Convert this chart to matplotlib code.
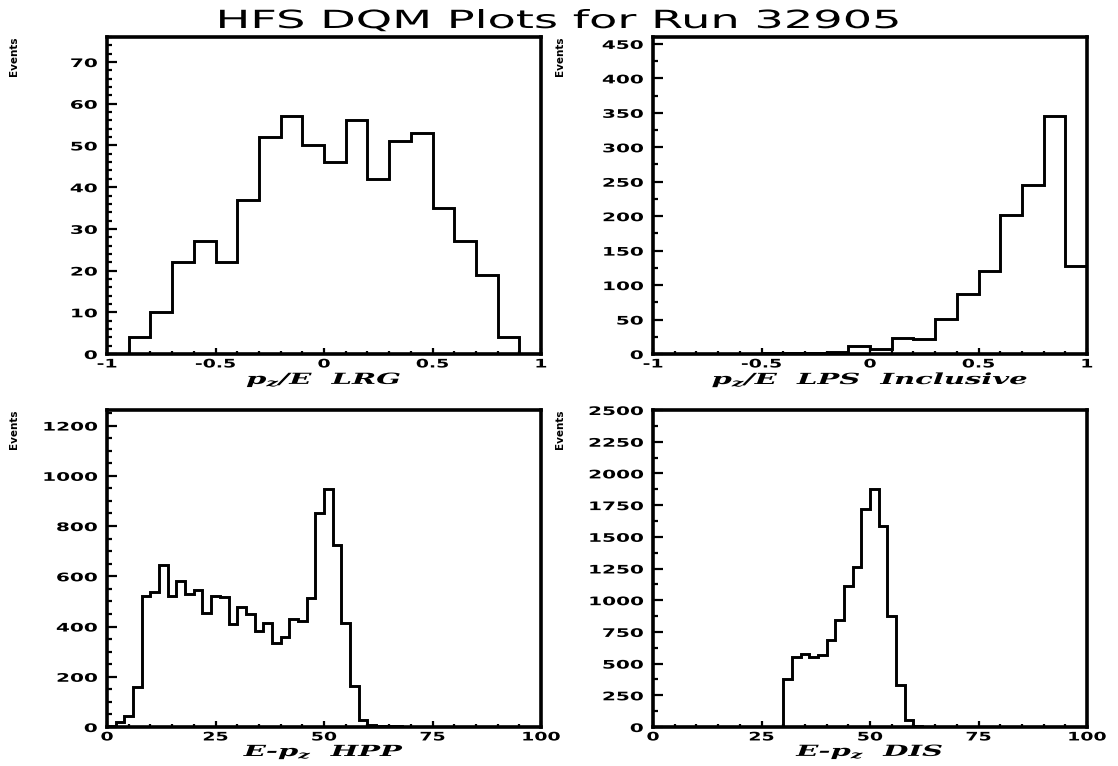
"""HFS DQM monitoring histograms for one run: 2x2 PAW-style panels -> out.png"""
import numpy as np
import matplotlib
matplotlib.use("Agg")
import matplotlib.pyplot as plt
from matplotlib.patheffects import AbstractPathEffect
from matplotlib.ticker import MultipleLocator, FuncFormatter
from matplotlib.transforms import Affine2D

RUN = 32905

# p_z/E histograms: 20 bins on [-1, 1]
pze_edges = np.linspace(-1.0, 1.0, 21)
lrg_counts = [0, 4, 10, 22, 27, 22, 37, 52, 57, 50,
              46, 56, 42, 51, 53, 35, 27, 19, 4, 0]
lps_counts = [0, 0, 0, 0, 0, 1, 1, 2, 3, 12,
              7, 23, 22, 51, 87, 120, 201, 245, 346, 127]

# E - p_z histograms: 50 bins on [0, 100]
epz_edges = np.linspace(0.0, 100.0, 51)
hpp_counts = [5, 18, 45, 160, 523, 539, 646, 523, 583, 530,
              547, 453, 520, 517, 411, 479, 450, 384, 413, 334,
              358, 430, 421, 514, 850, 947, 724, 415, 163, 28,
              9, 4, 3, 2, 0, 0, 0, 0, 0, 0,
              0, 0, 0, 0, 0, 0, 0, 0, 0, 0]
dis_counts = [0, 0, 0, 0, 0, 0, 0, 0, 0, 0,
              0, 0, 0, 0, 0, 381, 551, 578, 555, 567,
              690, 842, 1115, 1259, 1718, 1875, 1587, 879, 329, 56,
              8, 0, 0, 0, 0, 0, 0, 0, 0, 0,
              0, 0, 0, 0, 0, 0, 0, 0, 0, 0]

plt.rcParams["mathtext.fontset"] = "custom"
plt.rcParams["mathtext.it"] = "DejaVu Serif:italic:bold"
plt.rcParams["mathtext.rm"] = "DejaVu Serif:italic:bold"
plt.rcParams["axes.unicode_minus"] = False


class Widen(AbstractPathEffect):
    """Stretch glyph outlines horizontally (the old HIGZ fonts are wide)."""

    def __init__(self, sx, anchor="center"):
        super().__init__()
        self.sx = sx
        self.anchor = anchor

    def draw_path(self, renderer, gc, tpath, affine, rgbFace=None):
        ext = tpath.transformed(affine).get_extents()
        x0 = {"left": ext.x0, "right": ext.x1,
              "center": 0.5 * (ext.x0 + ext.x1)}[self.anchor]
        stretch = Affine2D().translate(-x0, 0).scale(self.sx, 1.0).translate(x0, 0)
        renderer.draw_path(gc, tpath, affine + stretch, rgbFace)


W, H = 1118, 766
fig = plt.figure(figsize=(W / 100, H / 100), dpi=100)
fig.patch.set_facecolor("white")


def px_axes(left, top, right, bottom):
    return fig.add_axes([left / W, 1 - bottom / H,
                         (right - left) / W, (bottom - top) / H])


num_fmt = FuncFormatter(lambda v, pos: f"{round(v, 3) + 0.0:g}")

# (axes box, edges, counts, x label, xlim, ymax, x ticks, y ticks,
#  x-label offset below the frame in px)
panels = [
    (px_axes(107, 37, 541, 354), pze_edges, lrg_counts, r"$p_z$/E  LRG",
     (-1, 1), 76, (0.5, 0.1), (10, 2), 26),
    (px_axes(653, 37, 1087, 354), pze_edges, lps_counts, r"$p_z$/E  LPS  Inclusive",
     (-1, 1), 460, (0.5, 0.1), (50, 25), 26),
    (px_axes(107, 410, 541, 727), epz_edges, hpp_counts, r"E-$p_z$  HPP",
     (0, 100), 1262, (25, 5), (200, 50), 25),
    (px_axes(653, 410, 1087, 727), epz_edges, dis_counts, r"E-$p_z$  DIS",
     (0, 100), 2500, (25, 5), (250, 125), 25),
]

for ax, edges, counts, xlabel, xlim, ymax, xt, yt, label_off in panels:
    ax.stairs(counts, edges, color="black", linewidth=2.1)
    ax.set_xlim(*xlim)
    ax.set_ylim(0, ymax)

    for sp in ax.spines.values():
        sp.set_linewidth(2.6)

    ax.xaxis.set_major_locator(MultipleLocator(xt[0]))
    ax.xaxis.set_minor_locator(MultipleLocator(xt[1]))
    ax.yaxis.set_major_locator(MultipleLocator(yt[0]))
    ax.yaxis.set_minor_locator(MultipleLocator(yt[1]))
    ax.xaxis.set_major_formatter(num_fmt)
    ax.yaxis.set_major_formatter(num_fmt)

    ax.tick_params(axis="both", which="both", direction="in", width=1.6,
                   top=False, right=False)
    ax.tick_params(axis="y", which="major", length=7.5, pad=7)
    ax.tick_params(axis="y", which="minor", length=3.5)
    ax.tick_params(axis="x", which="major", length=4.5, pad=2.5)
    ax.tick_params(axis="x", which="minor", length=2.2)

    for lbl in ax.get_xticklabels():
        lbl.set_fontsize(8.5)
        lbl.set_fontweight("bold")
        lbl.set_path_effects([Widen(1.6)])
    for lbl in ax.get_yticklabels():
        lbl.set_fontsize(8.5)
        lbl.set_fontweight("bold")
        lbl.set_path_effects([Widen(1.7, anchor="right")])

    ax.set_xlabel(xlabel, fontsize=11, family="DejaVu Serif",
                  fontstyle="italic", fontweight="bold")
    ax.xaxis.label.set_va("center")
    ax.xaxis.label.set_path_effects([Widen(1.9)])
    ax.xaxis.set_label_coords(0.5, -label_off / 317)

    # "Events" tag sits well to the left of the panel, near its top
    pos = ax.get_position()
    fig.text(pos.x0 - 93 / W, pos.y1 - 19 / H, "Events", rotation=90,
             ha="center", va="center", fontsize=7.5, fontweight="bold",
             family=["Liberation Sans Narrow", "DejaVu Sans"])

fig.text(0.5, 1 - 28 / H, f"HFS DQM Plots for Run {RUN}", ha="center",
         va="baseline", fontsize=18, family="DejaVu Sans",
         path_effects=[Widen(1.85)])

fig.savefig("out.png", dpi=100, facecolor="white")
